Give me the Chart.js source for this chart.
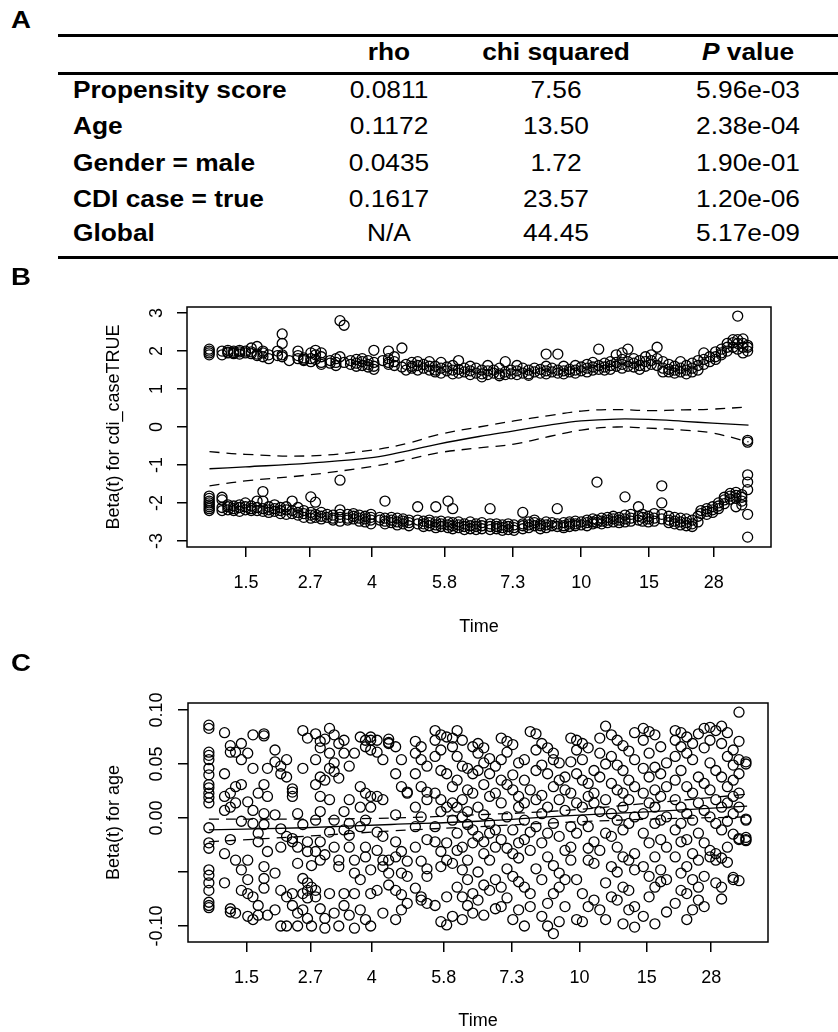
<!DOCTYPE html>
<html>
<head>
<meta charset="utf-8">
<script src="https://cdn.jsdelivr.net/npm/chart.js@4.4.1/dist/chart.umd.min.js"></script>
<style>
    body { margin: 0; width: 838px; height: 1032px; position: relative; overflow: hidden; background: #fff; color: #000;
           font-family: "Liberation Sans", Arial, Helvetica, sans-serif; }
    .tag { position: absolute; left: 11px; font-weight: bold; font-size: 24px; line-height: 24px; z-index: 2;
           transform: scaleX(1.15); transform-origin: left center; }
    .rule { position: absolute; left: 58px; right: 0; height: 2.5px; background: #000; }
    .cell { position: absolute; font-size: 23.5px; line-height: 23.5px; white-space: nowrap; }
    .cell span { display: inline-block; transform: scaleX(1.12); }
    .cell.left span { transform-origin: left center; }
    .cell.mid { transform: translateX(-50%); }
    .bold { font-weight: bold; }
    canvas { position: absolute; left: 0; }
</style>
</head>
<body>
<div class="tag" style="top:8px">A</div>
<div class="tag" style="top:265px">B</div>
<div class="tag" style="top:651px">C</div>

<div class="rule" style="top:34px"></div>
<div class="rule" style="top:72px"></div>
<div class="rule" style="top:256px"></div>
<div id="table"></div>

<canvas id="chartB" width="838" height="390" style="top:260px"></canvas>
<canvas id="chartC" width="838" height="382" style="top:650px"></canvas>

<script>
/* A. Tabelle */
const tableHeader = ['rho', 'chi squared', '<i>P</i> value'];
const rowLabels = ['Propensity score', 'Age', 'Gender = male', 'CDI case = true', 'Global'];
const rhoValues = ['0.0811', '0.1172', '0.0435', '0.1617', 'N/A'];
const chiValues = ['7.56', '13.50', '1.72', '23.57', '44.45'];
const pValues = ['5.96e-03', '2.38e-04', '1.90e-01', '1.20e-06', '5.17e-09'];

/* x-Achse: rangbasierte Zeit (0-100), Beschriftung in Tagen */
const xTickPos = [10.1, 21.1, 31.7, 44.1, 55.8, 67.5, 79.1, 90.2];
const xTickLabels = ['1.5', '2.7', '4', '5.8', '7.3', '10', '15', '28'];

/* B. Beta(t) fuer cdi_caseTRUE: [x, [y...]] */
const cdiTicks = [-3, -2, -1, 0, 1, 2, 3];
const cdiTickLabels = ['-3', '-2', '-1', '0', '1', '2', '3'];

const cdiUpper = [
    [3.8, [2.05, 2.0, 1.95, 1.9]], [6.0, [1.9, 2.0]], [7.0, [2.02, 1.95, 1.97]], [8.0, [1.93, 2.0, 1.96]],
    [9.0, [2.02, 1.98, 1.92]], [10.0, [2.0, 1.95]], [11.0, [1.98, 1.93, 2.08]], [12.0, [1.92, 2.12, 1.88]],
    [13.0, [1.95, 1.85, 2.0]], [14.0, [1.9, 1.8]], [15.5, [2.0, 1.88]], [16.3, [2.45, 2.2, 1.9, 1.85]],
    [17.5, [1.75]], [19.0, [2.0, 1.88, 1.8]], [20.0, [1.82, 1.78, 1.75]], [21.2, [1.95, 1.8, 1.72]],
    [22.0, [2.02, 1.9, 1.78]], [23.0, [1.95, 1.85, 1.7, 1.65]], [24.5, [1.75, 1.68]], [25.5, [1.8, 1.7, 1.62]],
    [26.2, [2.8, 1.85]], [26.9, [2.68, 1.7]], [28.0, [1.75, 1.65]], [29.0, [1.78, 1.68, 1.6]],
    [30.0, [1.8, 1.72, 1.62]], [31.0, [1.75, 1.65, 1.58]], [32.0, [2.02, 1.7, 1.6, 1.52]], [33.5, [1.75]],
    [34.5, [2.0, 1.8, 1.7, 1.65]], [35.5, [1.85, 1.72, 1.62]], [36.8, [2.08, 1.58]], [37.5, [1.65, 1.5]],
    [38.5, [1.7, 1.6, 1.55]], [39.5, [1.72, 1.62, 1.5]], [40.5, [1.65, 1.55]], [41.5, [1.72, 1.6, 1.5]],
    [42.5, [1.6, 1.5, 1.45]], [43.5, [1.7, 1.55, 1.42]], [44.5, [1.58, 1.48]], [45.5, [1.62, 1.5, 1.4]],
    [46.5, [1.75, 1.52, 1.42]], [47.5, [1.55, 1.45]], [48.5, [1.6, 1.48, 1.38]], [49.5, [1.55, 1.42]],
    [50.5, [1.5, 1.4, 1.32]], [51.5, [1.62, 1.48, 1.38]], [52.5, [1.5, 1.42]], [53.5, [1.55, 1.4, 1.35]],
    [54.5, [1.72, 1.45, 1.38]], [55.5, [1.5, 1.4]], [56.5, [1.62, 1.48, 1.38]], [57.5, [1.55, 1.42]],
    [58.5, [1.5, 1.4, 1.36]], [59.5, [1.55, 1.45]], [60.5, [1.52, 1.42]], [61.5, [1.92, 1.6, 1.48, 1.4]],
    [62.5, [1.55, 1.45]], [63.5, [1.92, 1.5, 1.42]], [64.5, [1.6, 1.48, 1.4]], [65.5, [1.52, 1.45]],
    [66.5, [1.62, 1.5, 1.42]], [67.5, [1.58, 1.48]], [68.5, [1.65, 1.55, 1.45]], [69.5, [1.7, 1.58, 1.5]],
    [70.5, [2.05, 1.62, 1.52]], [71.5, [1.68, 1.58, 1.5]], [72.5, [1.72, 1.62, 1.52]], [73.5, [1.9, 1.7, 1.6]],
    [74.5, [1.95, 1.78, 1.65, 1.55]], [75.5, [2.05, 1.72, 1.6]], [76.5, [1.8, 1.68, 1.58]], [77.5, [1.75, 1.62, 1.52]],
    [78.5, [1.85, 1.72, 1.6]], [79.5, [1.9, 1.75, 1.65]], [80.5, [2.1, 1.8, 1.62]], [81.5, [1.72, 1.55, 1.45]],
    [82.5, [1.65, 1.52, 1.45]], [83.5, [1.6, 1.5, 1.42]], [84.5, [1.72, 1.55, 1.45]], [85.5, [1.62, 1.5, 1.4]],
    [86.5, [1.68, 1.55, 1.45]], [87.5, [1.75, 1.62, 1.5]], [88.5, [1.95, 1.78, 1.65]], [89.5, [1.85, 1.72]],
    [90.5, [1.98, 1.85, 1.78]], [91.5, [2.05, 1.95, 1.9]], [92.5, [2.2, 2.1, 2.0]], [93.5, [2.3, 2.22, 2.1]],
    [94.3, [2.92, 2.3, 2.2, 2.05]], [95.2, [2.32, 2.2, 2.1, 1.95]], [96.0, [2.1, 2.0, 2.15, -0.35, -0.4]]
];

const cdiLower = [
    [3.8, [-1.82, -1.88, -1.95, -2.0, -2.05, -2.1, -2.15, -2.2]], [6.0, [-1.85, -1.92, -2.12, -2.2]],
    [7.0, [-2.1, -2.18, -2.05]], [8.0, [-2.15, -2.2, -2.08]], [9.0, [-2.05, -2.12, -2.22]], [10.0, [-2.1, -2.18, -2.0]],
    [11.0, [-2.08, -2.2, -2.15]], [12.0, [-2.12, -2.2, -1.95]], [13.0, [-1.7, -1.95, -2.15, -2.22]],
    [14.0, [-2.1, -2.18, -2.25]], [15.0, [-2.05, -2.15, -2.22]], [16.0, [-2.12, -2.2, -2.28]], [17.0, [-2.1, -2.18, -2.3]],
    [18.0, [-1.95, -2.2, -2.28]], [19.0, [-2.12, -2.25, -2.32]], [20.0, [-2.2, -2.28, -2.38]],
    [21.2, [-1.84, -2.25, -2.32, -2.4]], [22.0, [-1.98, -2.3, -2.38]], [23.0, [-2.25, -2.35, -2.42]], [24.0, [-2.3, -2.38]],
    [25.0, [-2.32, -2.4, -2.45]], [26.2, [-1.4, -2.18, -2.3, -2.38, -2.48]], [27.5, [-2.3, -2.4, -2.45]],
    [28.5, [-2.28, -2.35, -2.42]], [29.5, [-2.32, -2.4, -2.48]], [30.5, [-2.35, -2.42, -2.5]],
    [31.5, [-2.3, -2.38, -2.45, -2.55]], [33.0, [-2.38, -2.45]], [33.9, [-1.95, -2.4, -2.48, -2.55]],
    [35.0, [-2.38, -2.45, -2.52]], [36.0, [-2.4, -2.5, -2.58]], [37.0, [-2.42, -2.48, -2.55]], [38.0, [-2.45, -2.52, -2.6]],
    [39.5, [-2.1, -2.45, -2.55]], [40.5, [-2.48, -2.55, -2.62]], [41.5, [-2.45, -2.52, -2.6]],
    [42.6, [-2.1, -2.5, -2.58, -2.65]], [43.5, [-2.48, -2.55, -2.62]], [44.7, [-1.95, -2.5, -2.58, -2.65]],
    [45.5, [-2.15, -2.52, -2.6, -2.68]], [46.5, [-2.5, -2.58, -2.65]], [47.5, [-2.55, -2.62, -2.7]],
    [48.5, [-2.5, -2.6, -2.68]], [49.5, [-2.55, -2.62, -2.7]], [50.5, [-2.52, -2.6, -2.68]],
    [51.9, [-2.15, -2.55, -2.62, -2.7]], [53.0, [-2.55, -2.62, -2.68]], [54.0, [-2.58, -2.65, -2.72]],
    [55.0, [-2.55, -2.62, -2.7]], [56.0, [-2.58, -2.65, -2.72]], [57.5, [-2.25, -2.55, -2.6, -2.68]],
    [58.5, [-2.5, -2.58, -2.65]], [59.5, [-2.45, -2.52, -2.6]], [60.5, [-2.55, -2.6, -2.68]], [61.5, [-2.5, -2.58, -2.65]],
    [62.5, [-2.52, -2.6]], [63.4, [-2.15, -2.55, -2.62]], [64.5, [-2.52, -2.6, -2.65]], [65.5, [-2.5, -2.55, -2.62]],
    [66.5, [-2.48, -2.55, -2.6]], [67.5, [-2.5, -2.58]], [68.5, [-2.45, -2.52, -2.6]], [69.5, [-2.42, -2.5, -2.55]],
    [70.2, [-1.45, -2.45, -2.52]], [71.0, [-2.4, -2.48, -2.55]], [72.0, [-2.38, -2.45, -2.52]], [73.0, [-2.35, -2.42, -2.5]],
    [74.0, [-2.38, -2.45, -2.52]], [75.0, [-1.84, -2.32, -2.42, -2.5]], [76.0, [-2.3, -2.4, -2.48]],
    [77.3, [-2.1, -2.35, -2.45]], [78.0, [-2.3, -2.38, -2.48]], [79.0, [-2.35, -2.42, -2.5]], [80.0, [-2.28, -2.4, -2.48]],
    [81.3, [-1.55, -2.0, -2.3, -2.42]], [82.5, [-2.35, -2.45, -2.52]], [83.5, [-2.38, -2.48, -2.55]],
    [84.5, [-2.4, -2.5, -2.58]], [85.5, [-2.42, -2.52, -2.6]], [86.5, [-2.45, -2.55, -2.62]], [87.5, [-2.35, -2.5]],
    [88.0, [-2.2, -2.28]], [89.0, [-2.15, -2.22, -2.3]], [90.0, [-2.1, -2.18, -2.25]], [91.0, [-2.0, -2.08, -2.15]],
    [92.0, [-1.85, -1.92, -2.02]], [93.0, [-1.75, -1.82, -1.9]], [94.0, [-1.72, -1.8, -1.88, -2.1]],
    [95.0, [-1.78, -1.85, -1.95, -2.05]], [96.0, [-1.26, -1.45, -1.65, -2.3, -2.9]]
];

const cdiCurveX = [3.85, 10, 21, 32, 38, 43, 50, 56, 62, 67.5, 73.6, 79, 85, 90, 96.15];
const cdiFit =   [-1.1, -1.05, -0.95, -0.8, -0.62, -0.45, -0.25, -0.1, 0.05, 0.16, 0.21, 0.2, 0.15, 0.1, 0.05];
const cdiUpperCI = [-0.65, -0.72, -0.76, -0.6, -0.42, -0.2, 0.0, 0.16, 0.3, 0.42, 0.46, 0.43, 0.45, 0.47, 0.53];
const cdiLowerCI = [-1.55, -1.42, -1.26, -1.03, -0.85, -0.68, -0.55, -0.45, -0.25, -0.08, 0.0, -0.03, -0.08, -0.16, -0.39];

/* C. Beta(t) fuer age */
const ageTicks = [-0.10, -0.05, 0, 0.05, 0.10];
const ageTickLabels = ['-0.10', '', '0.00', '0.05', '0.10'];

const agePoints = [
    [3.6, [0.086, 0.083, 0.061, 0.058, 0.054, 0.046, 0.040, 0.031, 0.028, 0.023, 0.019, 0.014, -0.009, -0.023, -0.028, -0.048, -0.053, -0.060, -0.067, -0.078, -0.081, -0.083]],
    [6.3, [0.079, 0.041, 0.020, 0.007, -0.033, -0.060]], [7.3, [0.067, 0.061, 0.023, 0.010, -0.020, -0.084, -0.087]],
    [8.2, [0.061, 0.029, 0.014, -0.039, -0.088]], [9.2, [0.069, 0.054, 0.031, -0.003, -0.048, -0.067]],
    [10.3, [0.060, 0.015, -0.057, -0.070, -0.091, -0.039]], [11.2, [0.077, 0.046, 0.007, -0.005, -0.073, -0.094]],
    [12.1, [0.023, -0.014, -0.022, -0.081, -0.090]], [13.1, [0.078, 0.076, 0.031, 0.004, -0.006, -0.045, -0.056, -0.065]],
    [13.7, [0.046, 0.020, -0.031, -0.090]], [15.0, [0.063, 0.052, 0.003, -0.051, -0.085]],
    [16.0, [0.048, 0.041, -0.010, -0.027, -0.067, -0.100]], [17.0, [0.054, 0.038, -0.017, -0.073, -0.100]],
    [18.0, [0.027, 0.024, 0.020, -0.019, -0.022, -0.081, -0.070]], [18.9, [0.004, -0.042, -0.027, -0.088, -0.100]],
    [19.8, [0.081, 0.046, -0.006, -0.056, -0.070, -0.085]], [20.6, [0.074, -0.022, -0.031, -0.060, -0.067, -0.074, -0.093]],
    [21.3, [-0.044, -0.100, -0.064]], [22.0, [0.078, 0.054, 0.031, -0.002, -0.031, -0.067, -0.073]],
    [22.8, [0.071, 0.065, 0.038, 0.020, 0.006, -0.022, -0.039, -0.084]], [23.6, [0.073, 0.035, -0.034, -0.093, -0.102]],
    [24.4, [0.083, 0.060, 0.046, 0.017, -0.013, -0.070]], [25.2, [0.077, 0.051, 0.043, -0.002, -0.027, -0.088]],
    [26.0, [0.069, 0.037, -0.039, -0.045, -0.100]], [26.9, [0.072, 0.060, 0.006, -0.011, -0.070, -0.081]],
    [27.8, [0.048, 0.017, -0.005, -0.016, -0.027, -0.090]], [28.7, [0.060, -0.039, -0.051, -0.070, -0.102]],
    [29.7, [0.075, 0.029, 0.010, -0.008, -0.057, -0.085]], [30.6, [0.072, 0.066, 0.023, -0.002, -0.027, -0.036, -0.094]],
    [31.5, [0.075, 0.072, 0.063, 0.020, 0.010, -0.048, -0.070, -0.100]], [32.6, [0.072, 0.061, 0.020, -0.013, -0.030, -0.067]],
    [33.6, [0.054, 0.017, -0.017, -0.039, -0.045, -0.088]], [34.6, [0.070, 0.073, 0.069, -0.051, -0.039, -0.062]],
    [35.8, [0.066, 0.041, 0.003, -0.022, -0.036, -0.067, -0.094]], [36.8, [0.054, 0.029, -0.031, -0.051, -0.071, -0.085]],
    [37.8, [0.024, 0.023, -0.040, -0.054, -0.079]], [39.2, [0.071, 0.060, 0.041, 0.010, -0.008, -0.027, -0.065]],
    [40.2, [0.066, 0.054, 0.029, 0.001, -0.040, -0.073, -0.076]], [41.2, [0.048, 0.024, 0.017, -0.020, -0.047, -0.054, -0.079]],
    [42.6, [0.081, 0.072, 0.057, 0.023, -0.008, -0.022, -0.081]], [43.6, [0.077, 0.063, 0.044, 0.017, 0.006, -0.031, -0.045, -0.096]],
    [44.6, [0.075, 0.041, 0.010, -0.023, -0.039, -0.073, -0.099]], [45.6, [0.074, 0.066, 0.029, 0.014, -0.002, -0.042, -0.091]],
    [46.4, [0.081, 0.057, 0.035, 0.010, -0.014, -0.030, -0.064]], [47.3, [0.072, 0.048, 0.017, 0.001, -0.027, -0.048, -0.073, -0.094]],
    [48.2, [0.046, 0.026, 0.006, -0.006, -0.039, -0.057, -0.081]], [49.1, [0.066, 0.041, 0.023, -0.011, -0.023, -0.070, -0.088]],
    [50.0, [0.069, 0.060, 0.044, 0.010, -0.017, -0.050, -0.076]], [51.0, [0.065, 0.051, 0.031, 0.003, -0.022, -0.033, -0.062, -0.090]],
    [52.0, [0.055, 0.041, 0.020, -0.005, -0.014, -0.039, -0.067]], [53.0, [0.048, 0.023, -0.011, -0.027, -0.057, -0.084]],
    [54.0, [0.074, 0.054, 0.035, 0.014, -0.020, -0.064, -0.082]], [55.0, [0.071, 0.061, 0.031, 0.001, -0.028, -0.047, -0.074]],
    [56.0, [0.068, 0.040, 0.026, -0.011, -0.033, -0.054, -0.094]], [57.0, [0.051, 0.020, 0.010, -0.023, -0.037, -0.059, -0.085]],
    [58.0, [0.054, 0.035, 0.014, -0.002, -0.020, -0.064, -0.100]], [59.0, [0.080, 0.026, -0.013, -0.030, -0.070, -0.082]],
    [60.0, [0.078, 0.063, 0.044, 0.017, -0.008, -0.047]], [61.0, [0.069, 0.049, 0.021, 0.004, -0.023, -0.057, -0.091]],
    [62.0, [0.065, 0.041, 0.010, -0.014, -0.036, -0.079, -0.100]], [63.0, [0.060, 0.054, 0.029, -0.005, -0.044, -0.070, -0.107]],
    [64.0, [0.051, 0.035, 0.017, -0.017, -0.051, -0.064, -0.096]], [65.0, [0.038, 0.026, 0.007, -0.030, -0.082, -0.057]],
    [66.0, [0.074, 0.052, 0.023, -0.008, -0.027, -0.039]], [67.0, [0.072, 0.063, 0.041, 0.014, -0.014, -0.057, -0.094]],
    [68.0, [0.069, 0.054, 0.035, 0.010, -0.002, -0.070, -0.096]], [69.0, [0.065, 0.032, 0.020, -0.008, -0.028, -0.039, -0.082]],
    [70.0, [0.044, 0.023, 0.014, -0.022, -0.042, -0.076]], [71.0, [0.074, 0.060, 0.038, 0.006, -0.030, -0.085]],
    [72.0, [0.085, 0.050, 0.017, -0.014, -0.060, -0.094]], [73.0, [0.077, 0.057, 0.032, 0.004, -0.017, -0.045, -0.073]],
    [74.0, [0.072, 0.049, 0.026, -0.002, -0.027, -0.050, -0.076]], [75.0, [0.067, 0.044, 0.023, 0.010, -0.011, -0.036, -0.064, -0.098]],
    [76.0, [0.062, 0.035, 0.017, -0.005, -0.039, -0.067, -0.085]], [77.0, [0.079, 0.054, 0.029, 0.001, -0.033, -0.048, -0.082, -0.101]],
    [78.5, [0.083, 0.072, 0.046, 0.023, 0.004, -0.014, -0.045, -0.091]], [79.5, [0.080, 0.060, 0.038, 0.014, -0.023, -0.054, -0.073]],
    [80.5, [0.077, 0.047, 0.026, 0.010, -0.005, -0.036, -0.064, -0.098]], [81.5, [0.066, 0.041, 0.020, -0.002, -0.020, -0.048, -0.059]],
    [82.5, [0.051, 0.029, 0.001, -0.027, -0.057, -0.087]], [84.0, [0.081, 0.072, 0.057, 0.035, 0.017, -0.011, -0.036, -0.079]],
    [85.0, [0.079, 0.066, 0.044, 0.010, -0.005, -0.022, -0.051, -0.067]], [86.0, [0.075, 0.060, 0.029, 0.004, -0.020, -0.045, -0.070, -0.094]],
    [87.0, [0.069, 0.054, 0.023, -0.002, -0.033, -0.057, -0.085]], [88.0, [0.078, 0.038, 0.014, -0.014, -0.039, -0.064, -0.076]],
    [89.0, [0.083, 0.065, 0.032, 0.007, -0.023, -0.054, -0.082]], [90.0, [0.084, 0.072, 0.051, 0.026, 0.001, -0.030, -0.036]],
    [91.0, [0.081, 0.044, 0.017, -0.005, -0.033, -0.039, -0.060]], [92.0, [0.085, 0.069, 0.038, 0.010, -0.011, -0.037, -0.064, -0.075]],
    [93.0, [0.079, 0.057, 0.029, 0.014, -0.003, -0.027, -0.041]], [94.0, [0.063, 0.049, 0.035, 0.020, 0.004, -0.015, -0.055, -0.057]],
    [95.0, [0.098, 0.071, 0.054, 0.041, 0.023, 0.010, -0.019, -0.020, -0.058]], [96.2, [0.052, 0.050, -0.001, -0.002, -0.018, -0.020, -0.021]]
];

const ageCurveX = [3.6, 20, 35, 50, 65, 80, 96.4];
const ageFit =     [-0.011, -0.009, -0.006, -0.003, 0.002, 0.006, 0.011];
const ageUpperCI = [-0.001, -0.001, 0.0, 0.003, 0.007, 0.014, 0.022];
const ageLowerCI = [-0.022, -0.017, -0.012, -0.008, -0.004, -0.001, 0.001];


document.addEventListener('DOMContentLoaded', () => {
    buildTable();
    showPanel('chartB', {
        columns: [cdiUpper, cdiLower],
        curveX: cdiCurveX, fit: cdiFit, upper: cdiUpperCI, lower: cdiLowerCI,
        yMin: -3.16, yMax: 3.16, yTicks: cdiTicks, yTickLabels: cdiTickLabels,
        yTitle: 'Beta(t) for cdi_caseTRUE',
        area: { top: 47, right: 67, yWidth: 187, xHeight: 103 },
        yTickPadding: 11.5, xTickPadding: 15.7, xTitlePadding: 12,
    });
    showPanel('chartC', {
        columns: [agePoints],
        curveX: ageCurveX, fit: ageFit, upper: ageUpperCI, lower: ageLowerCI,
        yMin: -0.1148, yMax: 0.1065, yTicks: ageTicks, yTickLabels: ageTickLabels,
        yTitle: 'Beta(t) for age',
        area: { top: 53, right: 70, yWidth: 188, xHeight: 90 },
        yTickPadding: 0, xTickPadding: 15.2, xTitlePadding: 0,
    });
});

function buildTable() {
    const table = document.getElementById('table');
    const colX = [389, 556, 748];
    const rowY = [90.7, 127, 163.7, 199.5, 233.7];
    const fs = 23.5;

    const addCell = (html, x, y, cls) => {
        const div = document.createElement('div');
        div.className = 'cell ' + cls;
        div.style.left = x + 'px';
        div.style.top = (y - fs / 2) + 'px';
        div.innerHTML = '<span>' + html + '</span>';
        table.appendChild(div);
    };

    tableHeader.forEach((h, i) => addCell(h, colX[i], 52.7, 'mid bold'));
    rowLabels.forEach((label, r) => {
        addCell(label, 73, rowY[r], 'left bold');
        addCell(rhoValues[r], colX[0], rowY[r], 'mid');
        addCell(chiValues[r], colX[1], rowY[r], 'mid');
        addCell(pValues[r], colX[2], rowY[r], 'mid');
    });
}

// Rahmen um den Plotbereich wie bei R (bty = "o")
const boxFrame = {
    id: 'boxFrame',
    afterDraw(chart) {
        const { ctx, chartArea: a } = chart;
        ctx.save();
        ctx.strokeStyle = '#000';
        ctx.lineWidth = 1.5;
        ctx.strokeRect(a.left, a.top, a.right - a.left, a.bottom - a.top);
        ctx.restore();
    }
};

function showPanel(canvasId, p) {
    const font = { family: '"Liberation Sans", Arial, Helvetica, sans-serif', size: 18 };
    const points = p.columns.flatMap(cols => cols.flatMap(([x, ys]) => ys.map(y => ({ x, y }))));
    const curve = values => p.curveX.map((x, i) => ({ x, y: values[i] }));

    const lineStyle = {
        type: 'line',
        borderColor: '#000',
        borderWidth: 1.3,
        pointRadius: 0,
        tension: 0.4,
        fill: false,
    };

    const ctx = document.getElementById(canvasId).getContext('2d');
    new Chart(ctx, {
        type: 'scatter',
        data: {
            datasets: [
                {
                    label: 'Beta(t)',
                    data: points,
                    pointStyle: 'circle',
                    pointRadius: 5,
                    pointBorderWidth: 1.3,
                    borderColor: '#000',
                    backgroundColor: 'rgba(0,0,0,0)',
                },
                { ...lineStyle, label: 'fit', data: curve(p.fit) },
                { ...lineStyle, label: 'upper', data: curve(p.upper), borderDash: [10, 7] },
                { ...lineStyle, label: 'lower', data: curve(p.lower), borderDash: [10, 7] },
            ],
        },
        options: {
            responsive: false,
            animation: false,
            layout: { padding: { top: p.area.top, right: p.area.right, left: 0, bottom: 0 } },
            plugins: { legend: { display: false }, tooltip: { enabled: false } },
            scales: {
                x: {
                    type: 'linear',
                    min: 0,
                    max: 100,
                    afterBuildTicks: scale => { scale.ticks = xTickPos.map(v => ({ value: v })); },
                    afterFit: scale => { scale.height = p.area.xHeight; },
                    ticks: {
                        autoSkip: false,
                        maxRotation: 0,
                        padding: p.xTickPadding,
                        color: '#000',
                        font: font,
                        callback: (value, index) => xTickLabels[index],
                    },
                    grid: { drawOnChartArea: false, drawTicks: true, tickLength: 10, color: '#000', lineWidth: 1.5 },
                    border: { display: false },
                    title: { display: true, text: 'Time', color: '#000', font: font, padding: { top: 0, bottom: p.xTitlePadding } },
                },
                y: {
                    type: 'linear',
                    min: p.yMin,
                    max: p.yMax,
                    afterBuildTicks: scale => { scale.ticks = p.yTicks.map(v => ({ value: v })); },
                    afterFit: scale => { scale.width = p.area.yWidth; },
                    ticks: {
                        autoSkip: false,
                        minRotation: 90,
                        maxRotation: 90,
                        crossAlign: 'center',
                        padding: p.yTickPadding,
                        color: '#000',
                        font: font,
                        callback: (value, index) => p.yTickLabels[index],
                    },
                    grid: { drawOnChartArea: false, drawTicks: true, tickLength: 10, color: '#000', lineWidth: 1.5 },
                    border: { display: false },
                    title: { display: true, text: p.yTitle, color: '#000', font: font, padding: { top: 103, bottom: 0 } },
                },
            },
        },
        plugins: [boxFrame],
    });
}
</script>
</body>
</html>
